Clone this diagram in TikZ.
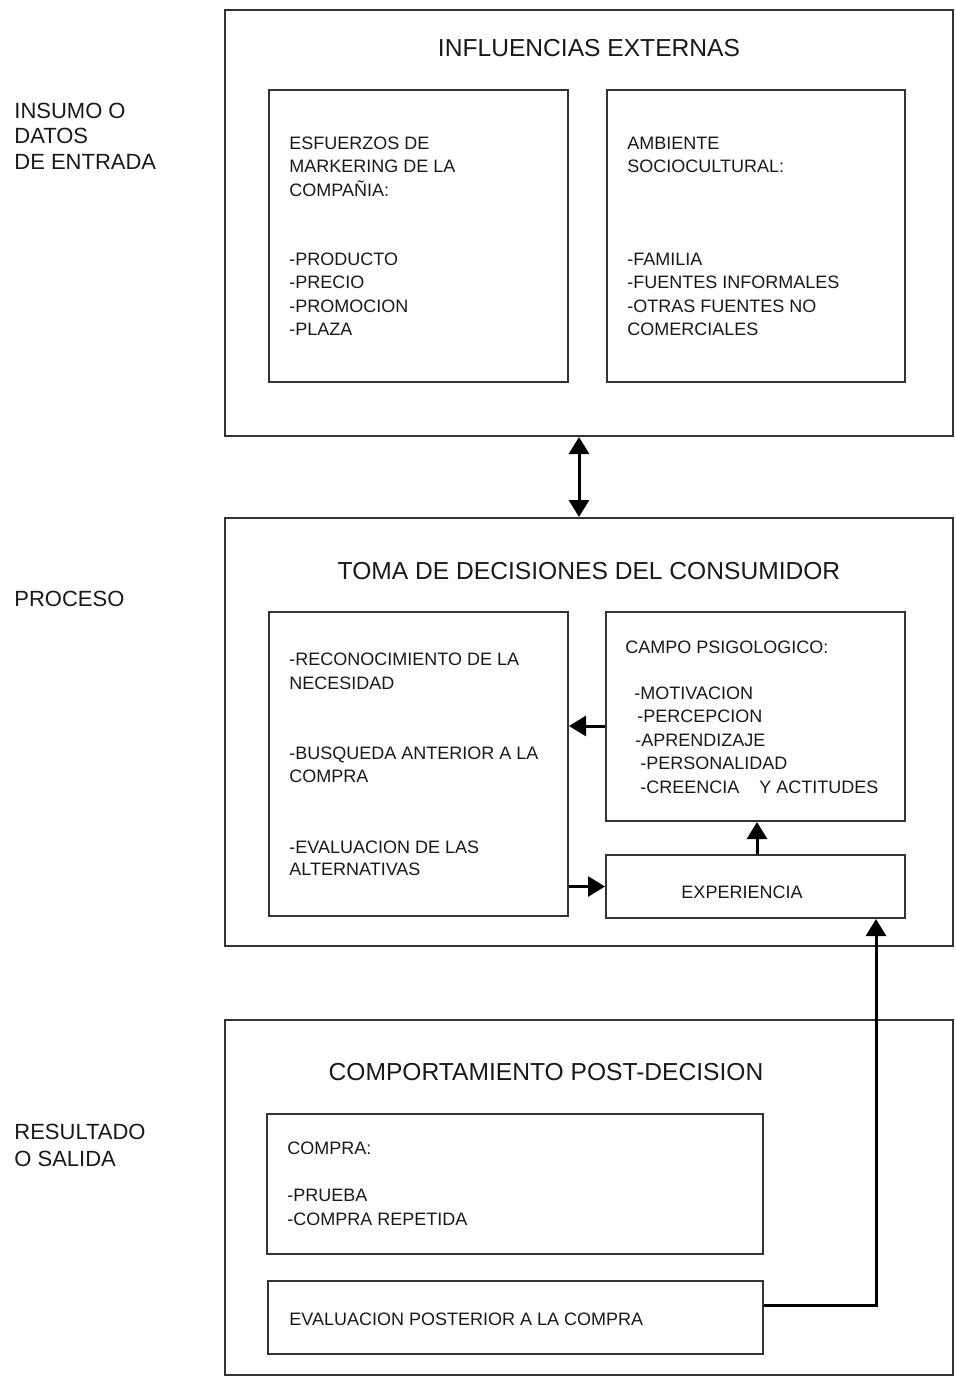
\documentclass[tikz,border=0pt]{standalone}
\usepackage{fontspec}
\setmainfont{Liberation Sans}
\usetikzlibrary{arrows.meta,fit}

\tikzset{
  caja/.style={draw=black!80, line width=1pt, inner sep=0pt},
  linea/.style={font=\fontsize{9}{11}\selectfont, text=black!90, anchor=west,
    inner sep=0pt, text height=6.5pt, text depth=0pt},
  titulo/.style={font=\fontsize{12.3}{14}\selectfont, text=black!90,
    inner sep=0pt, text height=9pt, text depth=0pt},
  etiqueta/.style={font=\fontsize{11}{13}\selectfont, text=black!90, anchor=west,
    inner sep=0pt, text height=8pt, text depth=0pt},
  punta/.style={Triangle[length=8.5pt,width=10pt]},
  flecha/.style={line width=1.5pt, -{Triangle[length=8.5pt,width=10pt]}},
  flechados/.style={line width=1.5pt, {Triangle[length=8.5pt,width=10pt]}-{Triangle[length=8.5pt,width=10pt]}},
}

\begin{document}
\begin{tikzpicture}[x=0.5pt, y=-0.5pt]
    \useasboundingbox (0,0) rectangle (956,1377);

    % Etiquetas de la izquierda
    \node[etiqueta] (ins1) at (14,110) {INSUMO O};
    \node[etiqueta] (ins2) at (14,135) {DATOS};
    \node[etiqueta] (ins3) at (14,161) {DE ENTRADA};
    \node[etiqueta] (proceso) at (14,598) {PROCESO};
    \node[etiqueta] (res1) at (14,1131) {RESULTADO};
    \node[etiqueta] (res2) at (14,1158) {O SALIDA};

    % Influencias externas
    \node[caja, fit={(225,10) (953,436)}] (ext) {};
    \node[titulo] (extT) at (589,47) {INFLUENCIAS EXTERNAS};
    \node[caja, fit={(269,90) (568,382)}] (mkt) {};
    \node[caja, fit={(607,90) (905,382)}] (soc) {};
    \foreach \t/\y [count=\i] in {ESFUERZOS DE/143, MARKERING DE LA/166, COMPAÑIA:/190,
        -PRODUCTO/259, -PRECIO/282, -PROMOCION/306, -PLAZA/329}
      \node[linea] (mkt-\i) at (289,\y) {\t};
    \foreach \t/\y [count=\i] in {AMBIENTE/143, SOCIOCULTURAL:/166, -FAMILIA/259,
        -FUENTES INFORMALES/282, -OTRAS FUENTES NO/306, COMERCIALES/329}
      \node[linea] (soc-\i) at (627,\y) {\t};

    % Toma de decisiones
    \node[caja, fit={(225,518) (953,946)}] (toma) {};
    \node[titulo] (tomaT) at (589,570) {TOMA DE DECISIONES DEL CONSUMIDOR};
    \node[caja, fit={(269,612) (568,916)}] (proc) {};
    \node[caja, fit={(606,612) (905,821)}] (campo) {};
    \node[caja, fit={(606,855) (905,918)}] (exper) {};
    \foreach \t/\y [count=\i] in {-RECONOCIMIENTO DE LA/659, NECESIDAD/683,
        -BUSQUEDA ANTERIOR A LA/753, COMPRA/776, -EVALUACION DE LAS/847, ALTERNATIVAS/869}
      \node[linea] (proc-\i) at (289,\y) {\t};
    \foreach \t/\x/\y [count=\i] in {CAMPO PSIGOLOGICO:/625/647, -MOTIVACION/634/693,
        -PERCEPCION/637/716, -APRENDIZAJE/635/740, -PERSONALIDAD/640/763,
        {-CREENCIA\hspace{10pt}Y ACTITUDES}/640/787}
      \node[linea] (campo-\i) at (\x,\y) {\t};
    \node[linea, anchor=center] (experT) at (742,892) {EXPERIENCIA};

    % Comportamiento post-decision
    \node[caja, fit={(225,1020) (953,1375)}] (post) {};
    \node[titulo] (postT) at (546,1071) {COMPORTAMIENTO POST-DECISION};
    \node[caja, fit={(267,1114) (763,1254)}] (compra) {};
    \node[caja, fit={(268,1281) (763,1354)}] (evalp) {};
    \foreach \t/\y [count=\i] in {COMPRA:/1148, -PRUEBA/1195, -COMPRA REPETIDA/1219}
      \node[linea] (compra-\i) at (287,\y) {\t};
    \node[linea] (evalT) at (289,1319) {EVALUACION POSTERIOR A LA COMPRA};

    % Flechas
    \draw[flechados] ([xshift=-5pt]ext.south) -- ([xshift=-5pt]toma.north);
    \draw[flecha] ([yshift=-4.75pt]campo.west) -- ([yshift=-4.75pt]campo.west -| proc.east);
    \draw[flecha] (proc.east |- exper.west) -- (exper.west);
    \draw[flecha] ([xshift=0.75pt]exper.north) -- ([xshift=0.75pt]campo.south);
    \draw[flecha] ([yshift=6.25pt]evalp.east) -| ([xshift=60.25pt]exper.south);
\end{tikzpicture}
\end{document}
